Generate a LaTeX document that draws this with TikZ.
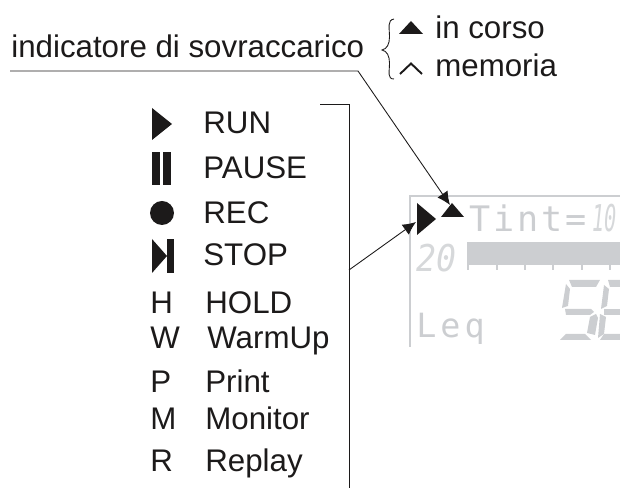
\documentclass[tikz,border=0pt]{standalone}
\usepackage{fontspec}
\usetikzlibrary{arrows.meta}
\setmainfont{Liberation Sans}
\newfontfamily\lcdfont{DejaVu Sans Mono}
\definecolor{lcdgray}{RGB}{204,206,209}
\definecolor{inkblack}{RGB}{28,26,26}
\tikzset{
    label/.style={anchor=base west, inner sep=0pt, text=inkblack, font=\fontsize{17.8pt}{20pt}\selectfont},
    lcd/.style={anchor=base west, inner sep=0pt, text=lcdgray, font=\lcdfont\fontsize{20pt}{22pt}\selectfont},
    lcdsmall/.style={anchor=base west, inner sep=0pt, text=lcdgray, font=\lcdfont\fontsize{19pt}{20pt}\selectfont},
    lcdit/.style={anchor=base west, inner sep=0pt, text=lcdgray!80, font=\lcdfont\itshape\fontsize{21pt}{22pt}\selectfont},
    leader/.style={draw=inkblack, line width=0.5pt},
    icon/.style={fill=inkblack, draw=none}
}
\begin{document}
\begin{tikzpicture}[x=0.02cm, y=-0.02cm]
    \useasboundingbox (0,0) rectangle (620,489);
    % display
    \draw[lcdgray, line width=0.7pt] (620,196) -- (410,196) -- (410,347);
    \node[lcd] (tint) at (469,232) {\addfontfeature{LetterSpace=8}Tint=};
    \node[lcdit, xscale=0.55] (tintval) at (592,232) {10};
    \node[lcdit, xscale=0.9] (scaleval) at (416,272) {20};
    \node[lcdsmall] (leq) at (416,338) {\addfontfeature{LetterSpace=12}Leq};
    \fill[lcdgray] (467,242) rectangle (620,265);
    \draw[lcdgray, line width=1pt] (468,265) -- (468,270);
    \draw[lcdgray, line width=1pt] (497,265) -- (497,270);
    \draw[lcdgray, line width=1pt] (525,265) -- (525,270);
    \draw[lcdgray, line width=1pt] (553,265) -- (553,270);
    \draw[lcdgray, line width=1pt] (582,265) -- (582,270);
    \draw[lcdgray, line width=1pt] (610,265) -- (610,270);
    % big digits
    \fill[lcdgray] (569,280) -- (600,280) -- (596,287) -- (572,287) -- cycle;
    \fill[lcdgray] (566,284) -- (570,289) -- (568,306) -- (562,308) -- cycle;
    \fill[lcdgray] (565,309) -- (591,309) -- (594,312) -- (590,315) -- (566,315) -- cycle;
    \fill[lcdgray] (590,317) -- (596,314) -- (598,318) -- (595,335) -- (587,333) -- cycle;
    \fill[lcdgray] (560,340) -- (566,334) -- (585,334) -- (591,340) -- cycle;
    \fill[lcdgray] (608,280) -- (620,280) -- (620,287) -- (610,287) -- cycle;
    \fill[lcdgray] (604,285) -- (609,289) -- (607,306) -- (601,309) -- cycle;
    \fill[lcdgray] (604,309) -- (620,309) -- (620,315) -- (604,315) -- cycle;
    \fill[lcdgray] (600,314) -- (606,317) -- (604,334) -- (598,338) -- cycle;
    \fill[lcdgray] (604,334) -- (620,334) -- (620,340) -- (600,340) -- cycle;
    % markers on the display
    \fill[icon] (417,203) -- (436,219) -- (417,235) -- cycle;
    \fill[icon] (441,217) -- (452,203) -- (464,217) -- cycle;
    % overload label
    \node[label] (overload) at (11,58) {indicatore di sovraccarico};
    \node[label] (running) at (435,39) {in corso};
    \node[label] (stored) at (435,77) {memoria};
    \fill[icon] (399,34) -- (411,21) -- (423,34) -- cycle;
    \draw[inkblack, line width=1.1pt] (400,74) -- (411,63.5) -- (422,74);
    \draw[leader] (394,19) .. controls (387,20) and (389.5,28) .. (389.5,37) .. controls (389.5,44) and (387,49) .. (382,50) .. controls (387,51) and (389.5,56) .. (389.5,63) .. controls (389.5,72) and (387,79) .. (394,79);
    % status list
    \fill[icon] (152,108) -- (172,124) -- (152,140) -- cycle;
    \node[label] (run) at (203,134) {RUN};
    \fill[icon] (152,152) rectangle (160,185);
    \fill[icon] (163,152) rectangle (171,185);
    \node[label] (pause) at (203,179) {PAUSE};
    \fill[icon] (162,213) circle (12);
    \node[label] (rec) at (203,224) {REC};
    \fill[icon] (152,239) -- (167,256) -- (152,273) -- cycle;
    \fill[icon] (167,239) rectangle (174,273);
    \node[label] (stop) at (203,266) {STOP};
    \node[label] (holdkey) at (150,314) {H};
    \node[label] (hold) at (205,314) {HOLD};
    \node[label] (warmkey) at (150,349) {W};
    \node[label] (warm) at (207,349) {WarmUp};
    \node[label] (printkey) at (150,393) {P};
    \node[label] (print) at (205,393) {Print};
    \node[label] (monitorkey) at (150,430) {M};
    \node[label] (monitor) at (205,430) {Monitor};
    \node[label] (replaykey) at (150,472) {R};
    \node[label] (replay) at (205,472) {Replay};
    % leaders
    \coordinate (shelfstart) at (10,71);
    \coordinate (shelfend) at (358,71);
    \coordinate (overloadtip) at (450,205);
    \draw[leader, -{Latex[length=7.5pt,width=7pt]}] (shelfstart) -- (shelfend) -- (overloadtip);
    \coordinate (bracketstart) at (320,104);
    \coordinate (bracketcorner) at (349,104);
    \coordinate (bracketend) at (349,488);
    \coordinate (bracketmid) at (349,270);
    \coordinate (statustip) at (416,222);
    \draw[leader] (bracketstart) -- (bracketcorner) -- (bracketend);
    \draw[leader, -{Latex[length=7.5pt,width=7pt]}] (bracketmid) -- (statustip);
\end{tikzpicture}
\end{document}
